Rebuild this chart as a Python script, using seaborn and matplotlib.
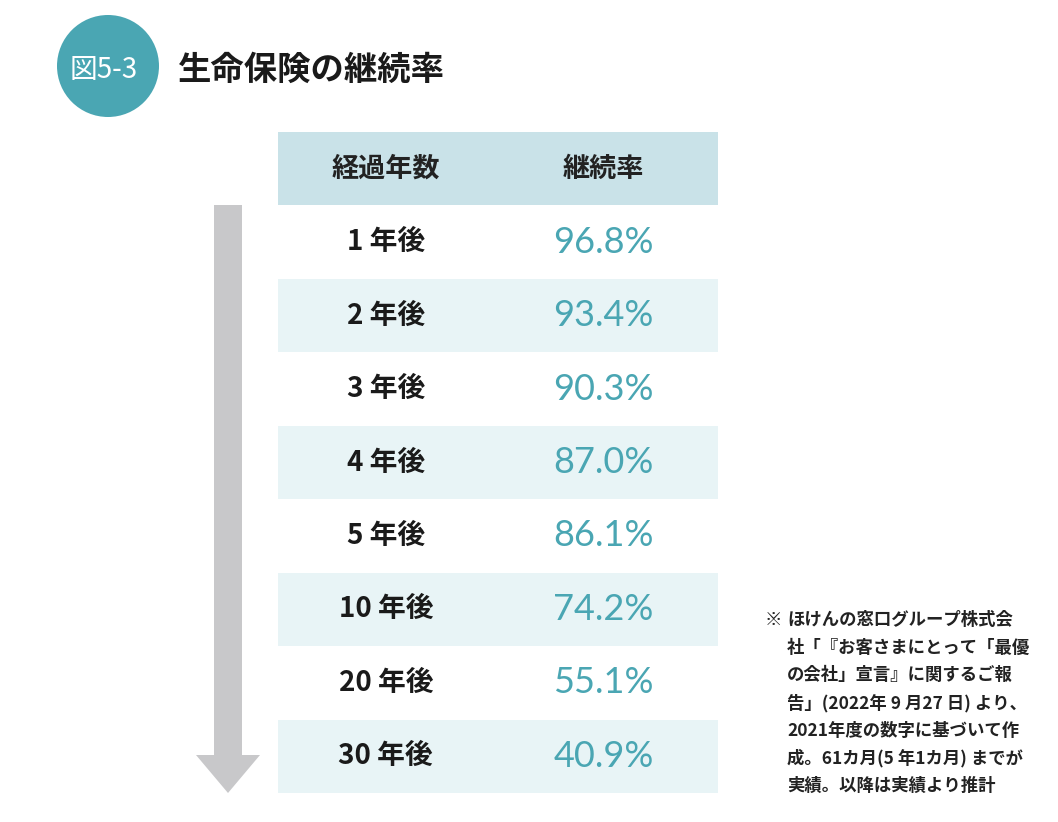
import numpy as np
import pandas as pd
import matplotlib
matplotlib.use("Agg")
import matplotlib.pyplot as plt
import seaborn as sns
from matplotlib.colors import ListedColormap
from matplotlib.patches import Circle, Polygon

# ---- data ----
title = "生命保険の継続率"
fig_label = "図5-3"
col_headers = ["経過年数", "継続率"]
years_labels = ["1 年後", "2 年後", "3 年後", "4 年後", "5 年後", "10 年後", "20 年後", "30 年後"]
rates = [96.8, 93.4, 90.3, 87.0, 86.1, 74.2, 55.1, 40.9]
note_lines = [
    "ほけんの窓口グループ株式会",
    "社「『お客さまにとって「最優",
    "の会社」宣言』に関するご報",
    "告」(2022年 9 月27 日) より、",
    "2021年度の数字に基づいて作",
    "成。61カ月(5 年1カ月) までが",
    "実績。以降は実績より推計",
]

sns.set_theme(style="white")
JP = ["Noto Sans CJK JP", "DejaVu Sans"]
plt.rcParams["font.family"] = JP

W, H = 1058, 822
fig = plt.figure(figsize=(W / 100, H / 100), dpi=100)
fig.patch.set_facecolor("white")

TEAL = "#4aa6b3"
HEAD = "#c9e2e8"
LIGHT = "#e8f4f6"

# ---- table axes ----
left_px, right_px, top_px, bot_px = 278, 718, 132, 793
ax = fig.add_axes([left_px / W, 1 - bot_px / H, (right_px - left_px) / W, (bot_px - top_px) / H])
n = len(years_labels)
stripe = [2] + [1 if i % 2 == 1 else 0 for i in range(n)]
mat = pd.DataFrame(np.array([[s, s] for s in stripe]), columns=col_headers)
sns.heatmap(mat, ax=ax, cmap=ListedColormap(["white", LIGHT, HEAD]), vmin=-0.5, vmax=2.5,
            cbar=False, linewidths=0, xticklabels=False, yticklabels=False)
ax.set_xlabel("")
ax.set_ylabel("")
for s in ax.spines.values():
    s.set_visible(False)

xc = [0.49, 1.48]
for j, h in enumerate(col_headers):
    ax.text(xc[j], 0.5, h, ha="center", va="center", fontsize=19.5, fontweight="bold",
            color="#222222", family=JP)
for i, (lab, r) in enumerate(zip(years_labels, rates)):
    ax.text(xc[0], i + 1.5, lab, ha="center", va="center", fontsize=20, fontweight="bold",
            color="#1a1a1a", family=JP)
    ax.text(xc[1], i + 1.5, f"{r:.1f}%", ha="center", va="center", fontsize=26,
            color=TEAL, family=["Lato", "DejaVu Sans"])

# ---- overlay axes in pixel coords for decorations ----
ov = fig.add_axes([0, 0, 1, 1], zorder=-1)
ov.set_xlim(0, W)
ov.set_ylim(H, 0)
ov.axis("off")

# arrow
ov.add_patch(Polygon([(214, 205), (242, 205), (242, 755), (260, 755), (228, 793),
                      (196, 755), (214, 755)], closed=True, color="#c8c8ca", lw=0))

# circle badge
ov.add_patch(Circle((108, 66), 51, color=TEAL, lw=0))
ov.text(104, 70, fig_label, ha="center", va="center", fontsize=20, color="white", family=JP)
ov.text(178, 70, title, ha="left", va="center", fontsize=24, fontweight="bold",
        color="#1a1a1a", family=JP)

# footnote
y0, dy = 620, 27.7
ov.text(765, y0, "※", ha="left", va="center", fontsize=12.5, fontweight="bold",
        color="#222222", family=JP)
for k, line in enumerate(note_lines):
    ov.text(787, y0 + k * dy, line, ha="left", va="center", fontsize=12.5, fontweight="bold",
            color="#222222", family=JP)

fig.savefig("out.png", dpi=100, facecolor="white")
